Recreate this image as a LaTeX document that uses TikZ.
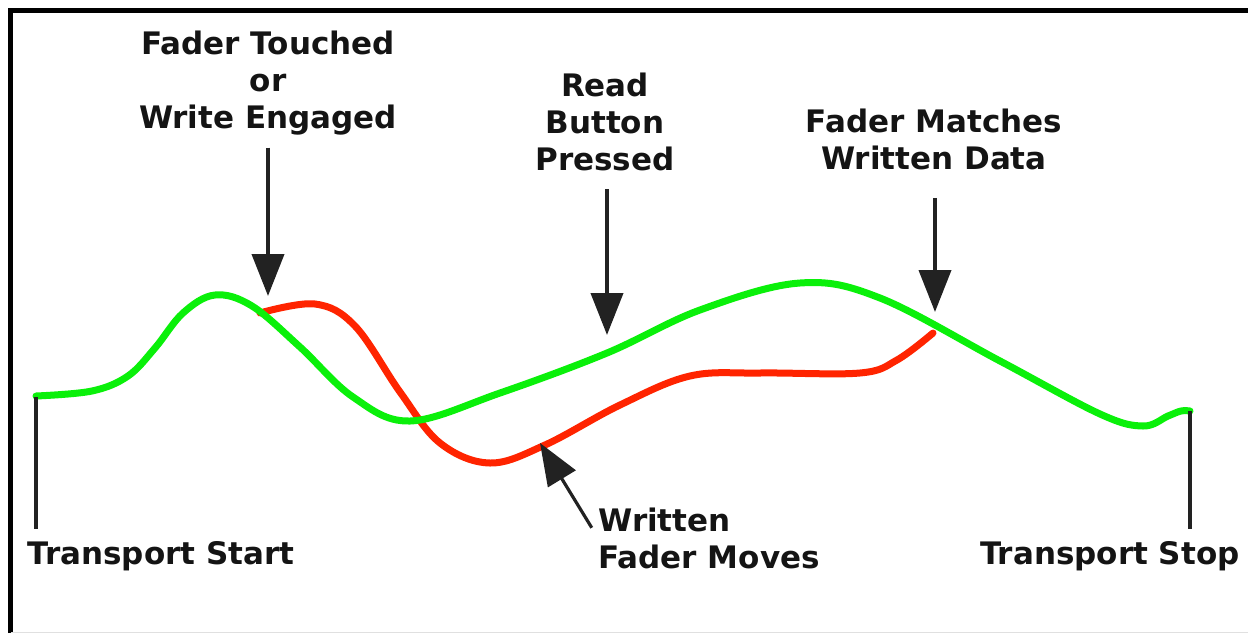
\documentclass[tikz,border=0pt]{standalone}
\usepackage{fontspec}
\setmainfont{DejaVu Sans}
\usetikzlibrary{arrows.meta,positioning}
\definecolor{fadergreen}{RGB}{10,240,10}
\definecolor{faderred}{RGB}{255,36,0}
\definecolor{arrowgray}{RGB}{34,34,34}
\definecolor{textblack}{RGB}{20,20,20}

\begin{document}
\begin{tikzpicture}[
  x=0.5pt, y=-0.5pt,
  label/.style={font=\bfseries\fontsize{15.5}{18.5}\selectfont, text=textblack, align=center, inner sep=0pt},
  pointer/.style={-{Triangle[width=16pt, length=21pt]}, line width=2pt, arrowgray},
  curve/.style={line width=3.5pt, line cap=round, line join=round},
  marker/.style={line width=1.8pt, arrowgray}
]
\useasboundingbox (0,0) rectangle (1248,633);

% Frame
\draw[line width=2.5pt, black] (10.5,633) -- (10.5,10) -- (1248,10);
\draw[black!12] (10.5,632) -- (1248,632);

% Points on the curves
\coordinate (startpt) at (36,397);
\coordinate (stoppt) at (1190,411);
\coordinate (touchpt) at (268,296);
\coordinate (readpt) at (607,335);
\coordinate (matchpt) at (935,312);
\coordinate (writtenpt) at (540,443);

% Written fader moves
\draw[curve, faderred] plot[smooth, tension=0.6] coordinates {
  (260,313) (315,304) (355,326) (400,392) (440,443) (490,463)
  (545,445) (620,405) (690,376) (760,373) (860,373) (897,360) (933,333)};

% Automation data
\draw[curve, fadergreen] plot[smooth, tension=0.6] coordinates {
  (36,396) (92,391) (128,376) (155,348) (183,313) (215,295) (252,306)
  (300,347) (353,397) (410,421) (500,393) (607,353) (700,310)
  (800,283) (880,298) (1000,361) (1100,414) (1143,426) (1168,416)
  (1181,411) (1190,411)};

% Labels
\node[label] (touched) at (268,83) {Fader Touched\\or\\Write Engaged};
\node[label] (read) at (605,122) {Read\\Button\\Pressed};
\node[label] (matches) at (934,139) {Fader Matches\\Written Data};
\node[label, align=left, anchor=west] (written) at (598,538) {Written\\Fader Moves};
\node[label, anchor=west] (start) at (27,556) {Transport Start};
\node[label, anchor=east] (stop) at (1240,556) {Transport Stop};

% Arrows
\draw[pointer, shorten <=6pt] (touched.south -| touchpt) -- (touchpt);
\draw[pointer, shorten <=9pt] (read.south -| readpt) -- (readpt);
\draw[pointer, shorten <=14pt] (matches.south -| matchpt) -- (matchpt);
\draw[pointer, line width=1.6pt, shorten <=6pt] (written.west) -- (writtenpt);

% Transport markers
\draw[marker, shorten >=6pt] (startpt) -- (startpt |- start.north);
\draw[marker, shorten >=6pt] (stoppt) -- (stoppt |- stop.north);

\end{tikzpicture}
\end{document}
